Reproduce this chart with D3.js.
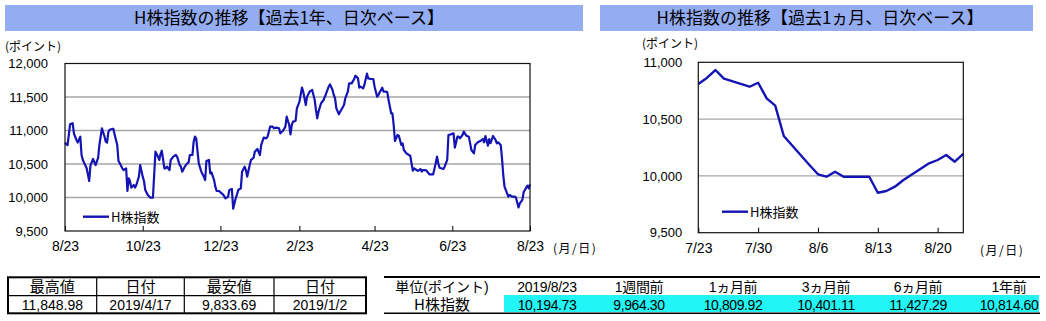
<!DOCTYPE html>
<meta charset="utf-8">
<head>
    <title>H株指数の推移</title>
    <script src="https://cdn.jsdelivr.net/npm/d3@7"></script>
    <style>
        body { margin: 0; background: #fff; }
        svg text { font-family: "Liberation Sans", Arial, "Noto Sans CJK JP", sans-serif; fill: #000; }
        svg text.jp { font-family: "Noto Sans CJK JP", sans-serif; }
    </style>
</head>
<body>
<svg id="chart" width="1046" height="321"></svg>
<script>
    // ---- data ----
    // 1 year chart: days since 2018/8/23 and index level
    var yearStart = "2018-08-23";
    var yearDays = [0, 2, 4, 6, 7, 9, 10, 12, 13, 14, 17, 19, 20, 22, 24, 26, 27, 29, 31, 32, 33, 34, 35, 37, 38, 39,
        41, 42, 43, 45, 46, 48, 49, 50, 51, 52, 54, 55, 56, 58, 59, 61, 62, 63, 65, 67, 69, 70, 71, 73, 74, 75, 76,
        78, 79, 80, 82, 83, 85, 87, 88, 90, 91, 92, 94, 96, 97, 98, 100, 101, 102, 103, 105, 107, 109, 110, 111, 113,
        114, 115, 117, 118, 119, 121, 122, 124, 126, 128, 129, 131, 132, 134, 135, 136, 138, 139, 141, 142, 143, 145,
        146, 148, 149, 151, 153, 154, 156, 158, 159, 161, 163, 164, 166, 168, 169, 171, 173, 174, 176, 177, 178, 179,
        181, 182, 184, 186, 187, 189, 190, 192, 194, 196, 197, 198, 199, 201, 203, 205, 207, 208, 210, 211, 212, 213,
        215, 216, 219, 220, 222, 223, 225, 227, 228, 230, 231, 232, 234, 235, 237, 238, 240, 242, 243, 245, 246, 247,
        249, 250, 252, 253, 254, 256, 257, 258, 259, 261, 262, 264, 265, 266, 268, 270, 271, 273, 274, 276, 277, 279,
        280, 281, 283, 284, 286, 289, 291, 292, 293, 294, 297, 298, 300, 301, 303, 305, 306, 308, 309, 310, 312, 313,
        315, 317, 318, 319, 321, 322, 324, 326, 328, 329, 330, 332, 333, 334, 336, 338, 339, 340, 342, 343, 344, 345,
        347, 348, 349, 351, 353, 354, 356, 357, 359, 360, 362, 363, 364, 365];
    var yearValues = [10815, 10780, 11093, 11110, 10958, 10858, 10820, 10908, 10634, 10560, 10436, 10246, 10480, 10575,
        10485, 10590, 10784, 11033, 10910, 10833, 10820, 10973, 11010, 11023, 11023, 10938,
        10784, 10545, 10510, 10436, 10410, 10436, 10097, 10287, 10246, 10147, 10187, 10147, 10187, 10311, 10485, 10311,
        10246, 10112, 10037, 9997, 9997, 10336, 10684, 10610, 10560, 10650, 10699,
        10436, 10436, 10460, 10410, 10560, 10610, 10634, 10610, 10485, 10460, 10386, 10460, 10510, 10525, 10634, 10634,
        10833, 10908, 10883, 10510, 10386, 10311, 10261, 10545, 10560,
        10361, 10375, 10261, 10162, 10097, 10097, 10077, 10047, 9988, 10013, 10112, 10127, 9834, 9988, 10047, 10112,
        10137, 10386, 10460, 10410, 10311, 10485,
        10560, 10590, 10684, 10724, 10634, 10784, 10893, 10883, 10908, 11057, 11057, 11033, 11043, 11033, 10958, 10993,
        11057, 11206, 11082, 10943, 11082, 11132,
        11142, 11331, 11427, 11639, 11580, 11381, 11505, 11580, 11605, 11455, 11306, 11182, 11281, 11406, 11455, 11555,
        11654, 11689, 11605, 11530, 11480, 11331,
        11242, 11281, 11381, 11480, 11580, 11704, 11704, 11769, 11818, 11778, 11639, 11654, 11629, 11679, 11849, 11778,
        11769, 11769, 11654, 11505, 11530, 11570,
        11639, 11580, 11580, 11570, 11455, 11257, 11257, 11082, 10843, 10933, 10923, 10784, 10808, 10709, 10659, 10634,
        10624, 10401, 10436, 10410, 10396, 10425,
        10386, 10410, 10410, 10396, 10346, 10346, 10510, 10610, 10510, 10445, 10425, 10460, 10560, 10933, 10943, 10958,
        10744, 10908, 10908, 10883, 10933, 10983,
        10923, 10908, 10808, 10709, 10659, 10784, 10824, 10843, 10873, 10824, 10918, 10774, 10873, 10810, 10918, 10858,
        10808, 10824, 10784, 10590, 10336, 10162,
        10062, 10013, 10037, 10013, 10013, 9997, 9852, 9913, 9964, 10077, 10147, 10177, 10137, 10195];
    var yearTicks = ["2018-08-23", "2018-10-23", "2018-12-23", "2019-02-23", "2019-04-23", "2019-06-23", "2019-08-23"];
    var yearYTicks = [9500, 10000, 10500, 11000, 11500, 12000];

    // 1 month chart
    var monthDates = ["2019-07-23", "2019-07-24", "2019-07-25", "2019-07-26", "2019-07-29", "2019-07-30", "2019-07-31",
        "2019-08-01", "2019-08-02", "2019-08-05", "2019-08-06", "2019-08-07", "2019-08-08", "2019-08-09", "2019-08-12",
        "2019-08-13", "2019-08-14", "2019-08-15", "2019-08-16", "2019-08-19", "2019-08-20", "2019-08-21", "2019-08-22",
        "2019-08-23"];
    var monthValues = [10809.92, 10862, 10932, 10857, 10785, 10820, 10683, 10618, 10351, 10096, 10014, 9993, 10037,
        9993, 9993, 9852, 9867, 9905, 9964.30, 10111, 10140, 10184, 10125, 10194.73];
    var monthTicks = ["2019-07-23", "2019-07-30", "2019-08-06", "2019-08-13", "2019-08-20"];
    var monthYTicks = [9500, 10000, 10500, 11000];

    // tables
    var statHeaders = ["最高値", "日付", "最安値", "日付"];
    var statValues = ["11,848.98", "2019/4/17", "9,833.69", "2019/1/2"];
    var compHeaders = ["単位(ポイント)", "2019/8/23", "1週間前", "1ヵ月前", "3ヵ月前", "6ヵ月前", "1年前"];
    var compLabel = "H株指数";
    var compValues = [10194.73, 9964.30, 10809.92, 10401.11, 11427.29, 10814.60];

    // ---- drawing ----
    var parseDate = d3.timeParse("%Y-%m-%d");
    var svg = d3.select("#chart");
    var blue = "#1414b4";

    var start = parseDate(yearStart);
    var yearSeries = yearDays.map(function (d, i) {
        return {date: d3.timeDay.offset(start, d), value: yearValues[i]};
    });
    var monthSeries = monthDates.map(function (d, i) {
        return {date: parseDate(d), value: monthValues[i]};
    });

    function drawPanel(p) {
        var g = svg.append("g");

        // title bar
        g.append("rect").attr("x", p.barX0).attr("y", 5).attr("width", p.barX1 - p.barX0).attr("height", 26)
            .attr("fill", "#93acf2");
        g.append("text").attr("class", "jp").attr("x", p.titleX).attr("y", 24).attr("text-anchor", "middle")
            .style("font-size", "17px").text(p.title);

        var x = d3.scaleTime().domain(d3.extent(p.xTicks.concat(p.series.map(function (d) { return d.date; }))))
            .range([p.left, p.right]);
        var y = d3.scaleLinear().domain(d3.extent(p.yTicks)).range([p.bottom, p.top]);

        // grid lines
        g.selectAll(".grid").data(p.yTicks.slice(1, -1)).enter().append("line")
            .attr("x1", p.left).attr("x2", p.right)
            .attr("y1", function (d) { return y(d); }).attr("y2", function (d) { return y(d); })
            .attr("stroke", "#a6a6a6").attr("stroke-width", 1.3);

        var xa = g.append("g").attr("transform", "translate(0," + p.bottom + ")")
            .call(d3.axisBottom(x).tickValues(p.xTicks).tickSize(-5).tickPadding(10)
                .tickFormat(d3.timeFormat("%-m/%-d")));
        xa.select(".domain").remove();
        xa.selectAll("text").style("font-size", "14px");

        var ya = g.append("g").attr("transform", "translate(" + p.left + ",0)")
            .call(d3.axisLeft(y).tickValues(p.yTicks).tickSize(0).tickPadding(p.yPad).tickFormat(d3.format(",")));
        ya.select(".domain").remove();
        ya.selectAll("text").style("font-size", "13px");

        // series
        g.append("path").datum(p.series)
            .attr("d", d3.line().x(function (d) { return x(d.date); }).y(function (d) { return y(d.value); }))
            .attr("fill", "none").attr("stroke", blue).attr("stroke-width", p.lineW)
            .attr("stroke-linejoin", "round");

        // plot border
        g.append("rect").attr("x", p.left).attr("y", p.top).attr("width", p.right - p.left)
            .attr("height", p.bottom - p.top).attr("fill", "none").attr("stroke", "#111").attr("stroke-width", 1.2);

        // unit labels
        g.append("text").attr("class", "jp").attr("x", p.unitX).attr("y", p.unitY).style("font-size", "12px")
            .text("(ポイント)");
        g.append("text").attr("class", "jp").attr("x", p.dateUnitX).attr("y", p.bottom + 22)
            .style("font-size", "12px").style("letter-spacing", "1.5px").text("(月/日)");

        // legend
        g.append("line").attr("x1", p.legX).attr("x2", p.legX + 26).attr("y1", p.legY).attr("y2", p.legY)
            .attr("stroke", blue).attr("stroke-width", 2.4);
        g.append("text").attr("class", "jp").attr("x", p.legX + 28).attr("y", p.legY + 5)
            .style("font-size", "13px").text("H株指数");
    }

    drawPanel({
        title: "H株指数の推移【過去1年、日次ベース】", barX0: 5, barX1: 583, titleX: 289,
        left: 65, right: 530, top: 63.5, bottom: 231, yPad: 17,
        xTicks: yearTicks.map(parseDate), yTicks: yearYTicks, series: yearSeries, lineW: 2.2,
        unitX: 5, unitY: 51, dateUnitX: 553, legX: 83, legY: 216.7
    });

    drawPanel({
        title: "H株指数の推移【過去1ヵ月、日次ベース】", barX0: 600, barX1: 1033, titleX: 820,
        left: 698.3, right: 963.3, top: 62.3, bottom: 232.7, yPad: 16,
        xTicks: monthTicks.map(parseDate), yTicks: monthYTicks, series: monthSeries, lineW: 2.4,
        unitX: 642, unitY: 48, dateUnitX: 980, legX: 722, legY: 211.7
    });

    // high / low table
    var colEdges = [8, 96.7, 184.3, 274, 366];
    var rowEdges = [277.3, 295.7, 313.3];
    var tb = svg.append("g");
    tb.selectAll(".vline").data(colEdges.slice(1, -1)).enter().append("line")
        .attr("x1", function (d) { return d; }).attr("x2", function (d) { return d; })
        .attr("y1", rowEdges[0]).attr("y2", rowEdges[2]).attr("stroke", "#000").attr("stroke-width", 1.2);
    tb.append("line").attr("x1", colEdges[0]).attr("x2", colEdges[4]).attr("y1", rowEdges[1]).attr("y2", rowEdges[1])
        .attr("stroke", "#000").attr("stroke-width", 1.2);
    tb.append("rect").attr("x", colEdges[0]).attr("y", rowEdges[0]).attr("width", colEdges[4] - colEdges[0])
        .attr("height", rowEdges[2] - rowEdges[0]).attr("fill", "none").attr("stroke", "#000").attr("stroke-width", 2);
    statHeaders.forEach(function (h, i) {
        var cx = (colEdges[i] + colEdges[i + 1]) / 2;
        tb.append("text").attr("class", "jp").attr("x", cx).attr("y", 292).attr("text-anchor", "middle")
            .style("font-size", "15px").text(h);
        tb.append("text").attr("x", cx).attr("y", 310).attr("text-anchor", "middle")
            .style("font-size", "14px").text(statValues[i]);
    });

    // comparison table
    var compX = [442, 547, 639, 733, 826, 918, 1009];
    var ct = svg.append("g");
    ct.append("rect").attr("x", 504).attr("y", 295).attr("width", 535).attr("height", 17).attr("fill", "#22f5f5");
    ct.append("line").attr("x1", 384).attr("x2", 1040).attr("y1", 277).attr("y2", 277)
        .attr("stroke", "#000").attr("stroke-width", 2);
    ct.append("line").attr("x1", 384).attr("x2", 1040).attr("y1", 313.3).attr("y2", 313.3)
        .attr("stroke", "#000").attr("stroke-width", 1.5);
    compHeaders.forEach(function (h, i) {
        ct.append("text").attr("x", compX[i]).attr("y", 292).attr("text-anchor", "middle")
            .style("font-size", "14px").style("letter-spacing", i ? "-0.3px" : "0px").text(h);
    });
    ct.append("text").attr("class", "jp").attr("x", compX[0]).attr("y", 310).attr("text-anchor", "middle")
        .style("font-size", "15px").text(compLabel);
    compValues.forEach(function (v, i) {
        ct.append("text").attr("x", compX[i + 1]).attr("y", 310).attr("text-anchor", "middle")
            .style("font-size", "14px").style("letter-spacing", "-0.4px").text(d3.format(",.2f")(v));
    });
</script>
</body>
</html>
